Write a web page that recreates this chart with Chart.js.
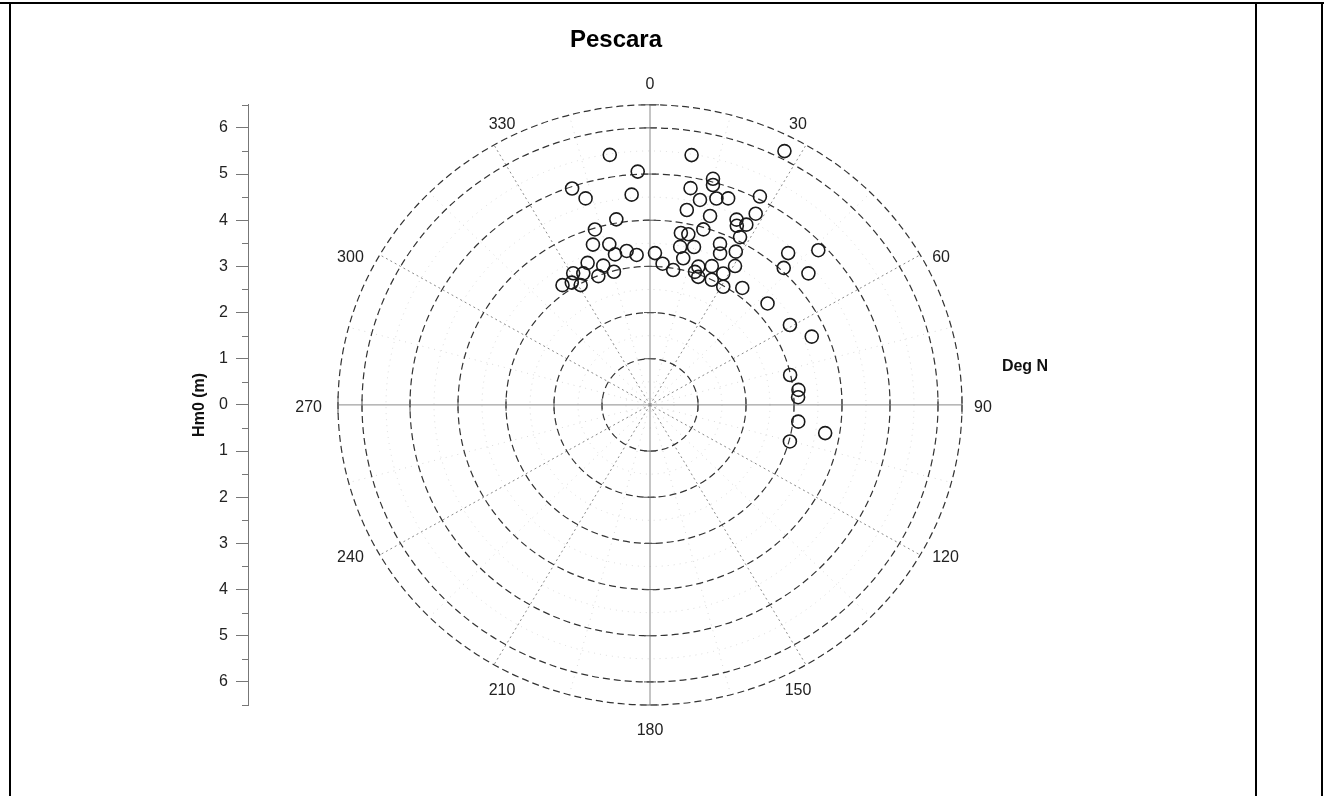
<!DOCTYPE html>
<html><head><meta charset="utf-8">
<script src="https://cdn.jsdelivr.net/npm/chart.js@4.4.0/dist/chart.umd.min.js"></script>
<style>
html,body{margin:0;padding:0;background:#fff;}
#wrap{position:relative;width:1324px;height:796px;overflow:hidden;background:#fff;}
#c{position:absolute;left:0;top:0;}
.ln{position:absolute;background:#000;}
</style></head><body>
<div id="wrap">
<canvas id="c" width="1324" height="796" style="width:1324px;height:796px"></canvas>
<div class="ln" style="left:0;top:2px;width:1324px;height:2px"></div>
<div class="ln" style="left:9px;top:2px;width:2px;height:794px"></div>
<div class="ln" style="left:1255px;top:2px;width:2px;height:794px"></div>
<div class="ln" style="left:1321px;top:2px;width:2px;height:794px"></div>
</div>
<script>
// ---- data ----
const chartTitle = 'Pescara';
const radialAxisTitle = 'Hm0 (m)';
const angleAxisTitle = 'Deg N';
const angleTicks = [0, 30, 60, 90, 120, 150, 180, 210, 240, 270, 300, 330];
const angleTickLabels = ['0', '30', '60', '90', '120', '150', '180', '210', '240', '270', '300', '330'];
const radialTicks = [1, 2, 3, 4, 5, 6];
const radialMax = 6.5;
const hm0TickValues = [-6, -5, -4, -3, -2, -1, 0, 1, 2, 3, 4, 5, 6];

const directionDeg = [
  351.2, 357.1, 340.9, 343.3, 355.2, 350.1, 343.2, 341.1, 346.3, 347.4,
  351.7, 355.1, 337.1, 342.1, 345.4, 330.7, 334.0, 338.9, 324.9, 328.4,
  330.9, 1.8, 4.9, 9.4, 9.1, 27.0, 15.0, 15.4, 10.2, 13.2,
  17.2, 20.0, 26.9, 10.3, 17.0, 28.0, 24.2, 27.2, 25.0, 16.3,
  9.8, 12.2, 27.3, 22.7, 10.4, 15.0, 24.0, 28.3, 41.2, 46.3,
  12.3, 18.6, 23.2, 30.5, 43.2, 49.2, 18.0, 28.2, 19.9, 25.4,
  30.8, 37.2, 48.1, 59.3, 66.3, 77.5, 84.0, 86.9, 96.7, 99.5,
  105.2
];
const hm0 = [
  5.48, 5.06, 4.96, 4.67, 4.57, 4.08, 3.97, 3.67, 3.58, 3.34,
  3.37, 3.26, 3.34, 3.17, 2.98, 3.27, 3.17, 2.99, 3.17, 3.11,
  2.97, 3.29, 3.07, 2.96, 5.48, 6.17, 5.07, 4.94, 4.77, 4.56,
  4.68, 4.76, 5.06, 4.29, 4.28, 4.69, 4.40, 4.39, 4.28, 3.96,
  3.78, 3.78, 4.09, 3.78, 3.48, 3.54, 3.59, 3.77, 4.37, 4.85,
  3.25, 3.16, 3.27, 3.49, 4.07, 4.36, 3.03, 3.23, 2.95, 3.00,
  2.98, 3.18, 3.29, 3.39, 3.68, 2.99, 3.11, 3.09, 3.11, 3.70,
  3.02
];

const FONT = "'Liberation Sans', Arial, sans-serif";
const rad = d => d * Math.PI / 180;
const points = directionDeg.map((d, i) => ({ x: hm0[i] * Math.sin(rad(d)), y: hm0[i] * Math.cos(rad(d)) }));

const polarGrid = {
  id: 'polarGrid',
  beforeDatasetsDraw(chart) {
    const { ctx, scales: { x, y } } = chart;
    const cx = x.getPixelForValue(0), cy = y.getPixelForValue(0);
    const rx = v => x.getPixelForValue(v) - cx;
    const ry = v => cy - y.getPixelForValue(v);
    const pt = (r, a) => [cx + rx(r) * Math.sin(rad(a)), cy - ry(r) * Math.cos(rad(a))];
    const ell = r => { ctx.beginPath(); ctx.ellipse(cx, cy, rx(r), ry(r), 0, 0, Math.PI * 2); ctx.stroke(); };
    const spoke = (a, r0, r1) => { const p = pt(r0, a), q = pt(r1, a); ctx.beginPath(); ctx.moveTo(p[0], p[1]); ctx.lineTo(q[0], q[1]); ctx.stroke(); };
    ctx.save();
    ctx.lineWidth = 1;
    // minor circles
    ctx.setLineDash([1, 5]); ctx.strokeStyle = '#d9d9d9';
    radialTicks.forEach(r => ell(r - 0.5));
    // minor spokes
    angleTicks.forEach(a => spoke(a + 15, 0, radialMax));
    // major spokes (dotted)
    ctx.setLineDash([2, 3]); ctx.strokeStyle = '#8a8a8a';
    angleTicks.filter(a => a % 90 !== 0).forEach(a => spoke(a, 0, radialMax));
    // major circles dashed
    ctx.setLineDash([7, 4]); ctx.strokeStyle = '#333'; ctx.lineWidth = 1.2;
    radialTicks.concat([radialMax]).forEach(r => ell(r));
    // cardinal axes
    ctx.setLineDash([]); ctx.strokeStyle = '#8a8a8a'; ctx.lineWidth = 1;
    [0, 90, 180, 270].forEach(a => spoke(a, 0, radialMax));
    // radial ticks on cardinal axes
    ctx.strokeStyle = '#555';
    [0, 90, 180, 270].forEach(a => {
      radialTicks.concat([radialMax]).forEach(r => {
        const p = pt(r, a); const L = r === radialMax ? 9 : 6;
        ctx.beginPath();
        if (a % 180 === 0) { ctx.moveTo(p[0] - L, p[1]); ctx.lineTo(p[0] + L, p[1]); }
        else { ctx.moveTo(p[0], p[1] - L); ctx.lineTo(p[0], p[1] + L); }
        ctx.stroke();
      });
    });
    // angle labels
    ctx.fillStyle = '#222'; ctx.font = '16px ' + FONT;
    angleTicks.forEach((a, i) => {
      const p = pt(radialMax, a); const s = Math.sin(rad(a)), c = Math.cos(rad(a));
      ctx.textBaseline = 'middle';
      if (Math.abs(c) > 0.8) {
        ctx.textAlign = 'center';
        ctx.fillText(angleTickLabels[i], p[0] - Math.sign(Math.round(s * 100)) * 8, p[1] - Math.sign(c) * 23 + 3);
      } else {
        ctx.textAlign = s > 0 ? 'left' : 'right';
        ctx.fillText(angleTickLabels[i], p[0] + (s > 0 ? 12 : -16), p[1] + 3);
      }
    });
    // angle axis title
    ctx.font = 'bold 16px ' + FONT; ctx.fillStyle = '#111';
    ctx.textAlign = 'center'; ctx.textBaseline = 'middle';
    const e = pt(radialMax, 90);
    ctx.fillText(angleAxisTitle, e[0] + 63, e[1] - 38);
    ctx.restore();
  },
  afterDraw(chart) {
    const { ctx, scales: { y } } = chart;
    const xl = chart.chartArea.left;
    ctx.save(); ctx.strokeStyle = '#777'; ctx.lineWidth = 1;
    hm0TickValues.concat([-7]).forEach(v => {
      const py = Math.round(y.getPixelForValue(v + 0.5)) + 0.5;
      ctx.beginPath(); ctx.moveTo(xl - 6, py); ctx.lineTo(xl, py); ctx.stroke();
    });
    ctx.restore();
  }
};

new Chart(document.getElementById('c'), {
  type: 'scatter',
  data: { datasets: [{
    data: points,
    pointStyle: 'circle', pointRadius: 6.5, pointHoverRadius: 6.5,
    borderColor: '#1a1a1a', borderWidth: 1.6, backgroundColor: 'rgba(0,0,0,0)'
  }] },
  options: {
    responsive: false, animation: false,
    layout: { padding: { top: 14, bottom: 91, left: 180, right: 272 } },
    plugins: {
      legend: { display: false }, tooltip: { enabled: false },
      title: { display: true, text: chartTitle, color: '#000',
        font: { family: FONT, size: 24, weight: 'bold' }, padding: { top: 12, bottom: 50 } }
    },
    scales: {
      x: { type: 'linear', min: -8.375, max: 8.375, display: false },
      y: { type: 'linear', position: 'left', min: -6.5, max: 6.5,
        afterFit(s) { s.width = 68; },
        afterBuildTicks(s) { s.ticks = hm0TickValues.map(v => ({ value: v })); },
        ticks: { callback: v => String(Math.abs(v)), color: '#222', padding: 8,
          font: { family: FONT, size: 16 } },
        grid: { drawOnChartArea: false, drawTicks: true, tickLength: 12, color: '#777' },
        border: { display: true, color: '#777', width: 1 },
        title: { display: true, text: radialAxisTitle, color: '#111',
          font: { family: FONT, size: 16, weight: 'bold' }, padding: { top: 10, bottom: 0 } }
      }
    }
  },
  plugins: [polarGrid]
});
</script>
</body></html>
